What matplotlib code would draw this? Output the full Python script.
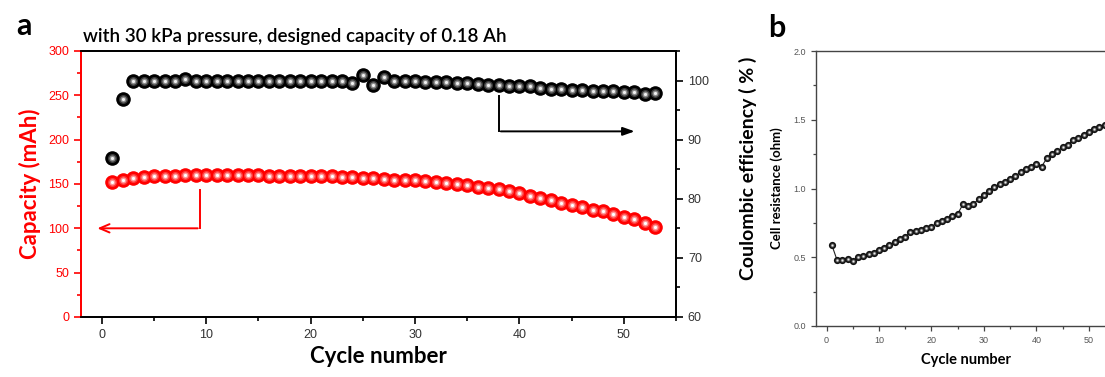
import numpy as np
import matplotlib
matplotlib.use("Agg")
import matplotlib.pyplot as plt
from matplotlib.ticker import MultipleLocator

plt.rcParams['font.family'] = ['Liberation Sans', 'DejaVu Sans']

# panel a data
cycles = list(range(1, 54))
capacity = [152, 155, 157, 158, 159, 159, 159.5, 160, 160, 160,
             160, 160, 160, 160, 160, 159.5, 159.5, 159.5, 159.5, 159.5,
             159, 158.5, 158, 157.5, 157, 156.5, 156, 155, 154.5, 154,
             153, 152, 151, 150, 148.5, 147, 145.5, 144, 142, 140,
             136, 134, 131.5, 129, 126.5, 123.5, 121, 119, 116, 113,
             110, 106, 102]
efficiency = [86.9, 96.8, 100, 100, 99.9, 100, 100, 100.2, 100, 100,
              100, 99.9, 100, 100, 100, 99.9, 100, 100, 100, 100,
              100, 100, 99.9, 99.6, 101, 99.3, 100.6, 100, 99.9, 99.9,
              99.8, 99.8, 99.7, 99.6, 99.5, 99.4, 99.3, 99.2, 99.0, 99.0,
              99.1, 98.8, 98.6, 98.5, 98.4, 98.4, 98.3, 98.3, 98.2, 98.1,
              98.0, 97.7, 97.9]

# panel b data
resistance = [0.59, 0.48, 0.48, 0.49, 0.47, 0.50, 0.51, 0.52, 0.53, 0.55,
              0.57, 0.59, 0.61, 0.63, 0.65, 0.68, 0.69, 0.70, 0.71, 0.72,
              0.75, 0.76, 0.78, 0.80, 0.815, 0.885, 0.87, 0.89, 0.92, 0.95,
              0.98, 1.01, 1.03, 1.05, 1.07, 1.09, 1.12, 1.14, 1.16, 1.18,
              1.16, 1.22, 1.25, 1.27, 1.30, 1.32, 1.35, 1.37, 1.39, 1.41,
              1.43, 1.45, 1.46]

label_font = 'Lato'


def spheres(ax, x, y, shades, ms, line=False):
    # fake shaded balls: stack of shrinking circles, dark -> light
    if line:
        ax.plot(x, y, '-', color='#222222', lw=0.8, zorder=2)
    sizes = [1.0, 0.62, 0.42, 0.22]
    for i, (c, f) in enumerate(zip(shades, sizes)):
        ax.plot(x, y, 'o', color=c, ms=ms * f, mew=0, ls='none', zorder=3 + i)


fig = plt.figure(figsize=(11.05, 3.77), dpi=100)

# ---- panel a ----
ax = fig.add_axes([0.0733, 0.1592, 0.5385, 0.7056])
ax2 = ax.twinx()

spheres(ax, cycles, capacity, ['#ff0000', '#ff3a3a', '#ff9a9a', '#ffffff'], 10.5)
spheres(ax2, cycles, efficiency, ['#000000', '#3a3a3a', '#8c8c8c', '#f0f0f0'], 10.5)

ax.set_xlim(-2, 55)
ax.set_ylim(0, 300)
ax2.set_ylim(60, 105)

ax.xaxis.set_major_locator(MultipleLocator(10))
ax.xaxis.set_minor_locator(MultipleLocator(5))
ax.yaxis.set_major_locator(MultipleLocator(50))
ax.yaxis.set_minor_locator(MultipleLocator(25))
ax2.yaxis.set_major_locator(MultipleLocator(10))
ax2.yaxis.set_minor_locator(MultipleLocator(5))
ax2.set_yticks([60, 70, 80, 90, 100])

red = '#ff0000'
for s in ['top', 'bottom', 'right', 'left']:
    ax.spines[s].set_linewidth(1.3)
    ax2.spines[s].set_linewidth(1.3)
ax2.spines['left'].set_color(red)
ax.spines['left'].set_color(red)

ax.tick_params(axis='x', which='both', direction='out', labelsize=9, width=1.2, pad=4)
ax.tick_params(axis='x', which='major', length=5)
ax.tick_params(axis='x', which='minor', length=3)
ax.tick_params(axis='y', which='both', direction='out', colors=red, labelsize=9, width=1.2)
ax.tick_params(axis='y', which='major', length=5)
ax.tick_params(axis='y', which='minor', length=3)
ax2.tick_params(axis='y', which='both', direction='out', labelsize=9, width=1.2)
ax2.tick_params(axis='y', which='major', length=5)
ax2.tick_params(axis='y', which='minor', length=3)
for t in ax.get_xticklabels() + ax2.get_yticklabels():
    t.set_color('#333333')

ax.set_xlabel('Cycle number', family=label_font, weight='bold', fontsize=16, labelpad=3)
ax.set_ylabel('Capacity (mAh)', family=label_font, weight='bold', fontsize=16, color=red, labelpad=5)
ax2.set_ylabel('Coulombic efficiency ( % )', family=label_font, weight='bold', fontsize=14, labelpad=8)
ax2.yaxis.set_label_coords(1.105, 0.56)

# arrows
ax.plot([9.4, 9.4], [143, 100], color=red, lw=1.4, zorder=1)
ax.annotate('', xy=(-0.7, 100), xytext=(9.4 + 0.05, 100),
            arrowprops=dict(arrowstyle='->,head_length=0.7,head_width=0.3', color=red, lw=1.4))
ax2.plot([38, 38], [97.3, 91.4], color='black', lw=1.4, zorder=1)
ax2.annotate('', xy=(51.3, 91.4), xytext=(38 - 0.05, 91.4),
             arrowprops=dict(arrowstyle='-|>,head_length=0.7,head_width=0.25', color='black', lw=1.4))

fig.text(83 / 1105, 1 - 42 / 377, 'with 30 kPa pressure, designed capacity of 0.18 Ah',
         family=label_font, weight='semibold', fontsize=13.5, va='baseline', ha='left')
fig.text(16 / 1105, 1 - 35 / 377, 'a', family=label_font, weight='bold', fontsize=22,
         va='baseline', ha='left')

# ---- panel b ----
bx = fig.add_axes([0.7385, 0.1353, 0.2706, 0.7294])
spheres(bx, cycles, resistance, ['#111111', '#3a3a3a', '#8c8c8c', '#eeeeee'], 5.2, line=True)
bx.set_xlim(-2, 55)
bx.set_ylim(0, 2.0)
bx.xaxis.set_major_locator(MultipleLocator(10))
bx.xaxis.set_minor_locator(MultipleLocator(5))
bx.yaxis.set_major_locator(MultipleLocator(0.5))
bx.yaxis.set_minor_locator(MultipleLocator(0.25))
bx.yaxis.set_major_formatter(matplotlib.ticker.FormatStrFormatter('%.1f'))
for s in bx.spines.values():
    s.set_linewidth(1.0)
    s.set_color('#444444')
bx.tick_params(which='both', direction='out', labelsize=6.5, labelcolor='#555555',
               color='#444444', width=0.9)
bx.tick_params(which='major', length=3.5)
bx.tick_params(which='minor', length=2)
bx.set_xlabel('Cycle number', family=label_font, weight='bold', fontsize=10.5, labelpad=6)
bx.set_ylabel('Cell resistance (ohm)', family=label_font, weight='bold', fontsize=9.5, labelpad=8)
fig.text(768 / 1105, 1 - 37 / 377, 'b', family=label_font, weight='bold', fontsize=22,
         va='baseline', ha='left')

fig.savefig('out.png', dpi=100)
